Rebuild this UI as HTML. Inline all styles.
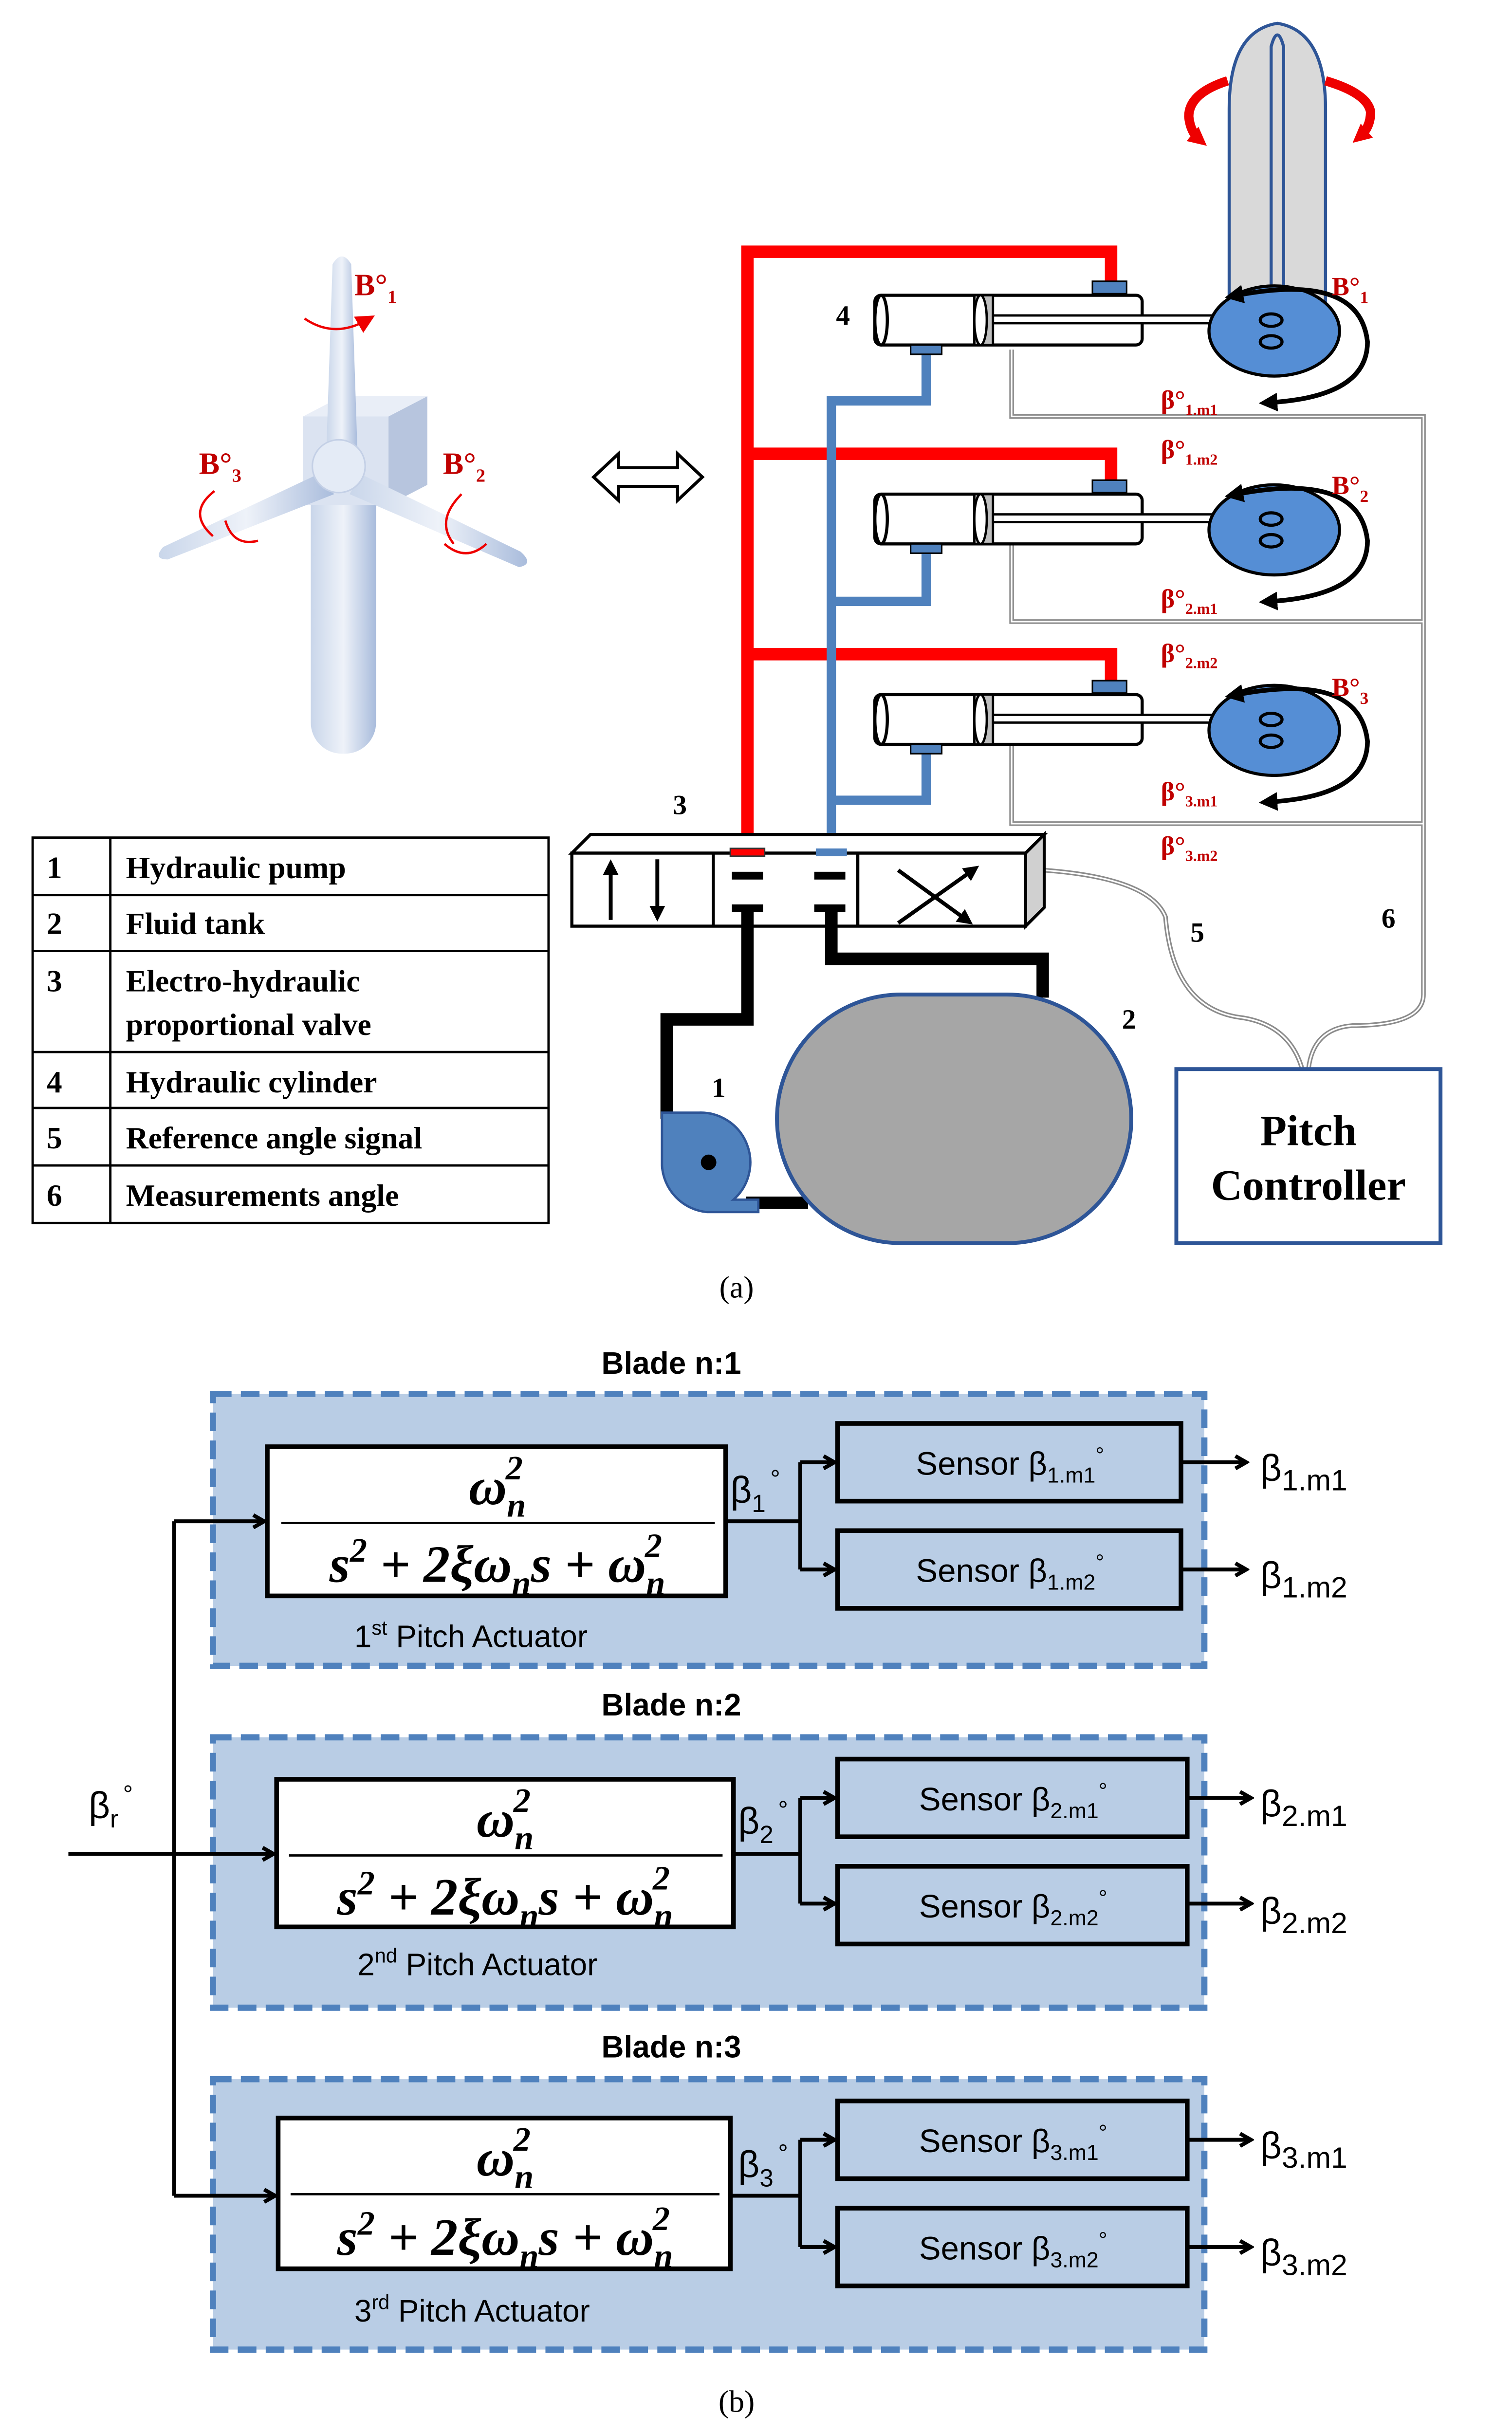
<!DOCTYPE html>
<html><head><meta charset="utf-8"><style>html,body{margin:0;padding:0;background:#fff;width:3106px;height:5153px;overflow:hidden}svg{display:block}</style></head>
<body>
<svg xmlns="http://www.w3.org/2000/svg" width="3106" height="5153" viewBox="0 0 973 1614" preserveAspectRatio="xMinYMin meet">
<defs>
<marker id="ah" markerWidth="10" markerHeight="10" refX="8" refY="5" orient="auto" markerUnits="userSpaceOnUse"><path d="M1,1 L8,5 L1,9" fill="none" stroke="#000" stroke-width="2.5"/></marker>
<marker id="ahr" markerWidth="12" markerHeight="12" refX="6" refY="6" orient="auto" markerUnits="userSpaceOnUse"><path d="M0,0 L12,6 L0,12 Z" fill="#e00"/></marker>
<marker id="ahk" markerWidth="10" markerHeight="10" refX="5" refY="5" orient="auto" markerUnits="userSpaceOnUse"><path d="M0,0 L10,5 L0,10 Z" fill="#000"/></marker>
<marker id="ahk2" markerWidth="12" markerHeight="12" refX="4" refY="6" orient="auto-start-reverse" markerUnits="userSpaceOnUse"><path d="M0,0 L12,6 L0,12 Z" fill="#000"/></marker>
<linearGradient id="bl" x1="0" x2="1"><stop offset="0" stop-color="#c9d6ea"/><stop offset=".5" stop-color="#eef2f9"/><stop offset="1" stop-color="#a9bcdc"/></linearGradient>
</defs>
<style>
.ser{font-family:"Liberation Serif",serif;font-weight:bold}
.lbl{font-family:"Liberation Serif",serif;font-weight:bold;fill:#c00000}
</style>

<g>
<rect x="200" y="300" width="42" height="185" rx="20" fill="url(#bl)"/>
<path d="M250,268 L275,255 L275,312 L250,325 Z" fill="#b7c5de"/>
<rect x="195" y="268" width="55" height="57" fill="#dbe3f1"/>
<path d="M195,268 L220,255 L275,255 L250,268 Z" fill="#e9eef7"/>
<path d="M210,290 L214,170 Q220,160 226,170 L230,290 Z" fill="url(#bl)"/>
<path d="M205,305 L105,352 Q98,360 108,360 L215,318 Z" fill="url(#bl)"/>
<path d="M232,305 L335,355 Q344,363 334,365 L225,318 Z" fill="url(#bl)"/>
<circle cx="218" cy="300" r="17" fill="#e4ebf6" stroke="#c4d0e6"/>
<path d="M196,205 Q215,218 236,206" fill="none" stroke="#e00" stroke-width="1.5" marker-end="url(#ahr)"/>
<path d="M138,316 Q120,330 137,345" fill="none" stroke="#e00" stroke-width="1.5"/>
<path d="M145,335 Q150,352 166,348" fill="none" stroke="#e00" stroke-width="1.5"/>
<path d="M297,318 Q280,335 292,350" fill="none" stroke="#e00" stroke-width="1.5"/>
<path d="M286,350 Q300,362 313,350" fill="none" stroke="#e00" stroke-width="1.5"/>
<text x="228" y="190" class="lbl" font-size="20">B°<tspan font-size="12" dy="5">1</tspan></text>
<text x="128" y="305" class="lbl" font-size="20">B°<tspan font-size="12" dy="5">3</tspan></text>
<text x="285" y="305" class="lbl" font-size="20">B°<tspan font-size="12" dy="5">2</tspan></text>
</g>
<path d="M382,307 L398,292 L398,301 L436,301 L436,292 L452,307 L436,322 L436,313 L398,313 L398,322 Z" fill="#fff" stroke="#000" stroke-width="2"/>

<path d="M791,200 L791,70 Q791,20 822,15 Q853,20 853,70 L853,200 Z" fill="#d9d9d9" stroke="#2e5597" stroke-width="2"/>
<path d="M818,200 L818,30 Q822,15 826,30 L826,200" fill="none" stroke="#2e5597" stroke-width="2"/>
<path d="M790,52 Q765,60 765,75 Q766,85 772,90" fill="none" stroke="#e00" stroke-width="6" marker-end="url(#ahr)"/>
<path d="M853,52 Q880,60 882,72 Q882,82 875,88" fill="none" stroke="#e00" stroke-width="6" marker-end="url(#ahr)"/>

<g fill="none" stroke="#8c8c8c" stroke-width="3">
<path d="M651,225 L651,268 L916,268 L916,640 Q916,660 870,660 Q845,662 842,688"/>
<path d="M651,350 L651,400 L916,400"/>
<path d="M651,479 L651,530 L916,530"/>
<path d="M672,560 Q740,565 750,590 Q755,650 800,655 Q830,660 838,688"/>
</g>
<g fill="none" stroke="#fff" stroke-width="1">
<path d="M651,225 L651,268 L916,268 L916,640 Q916,660 870,660 Q845,662 842,688"/>
<path d="M651,350 L651,400 L916,400"/>
<path d="M651,479 L651,530 L916,530"/>
<path d="M672,560 Q740,565 750,590 Q755,650 800,655 Q830,660 838,688"/>
</g>

<g fill="none" stroke="#f00" stroke-width="8">
<path d="M481,548 L481,162 L715,162 L715,183"/>
<path d="M481,292 L715,292 L715,312"/>
<path d="M481,421 L715,421 L715,440"/>
</g>
<g fill="none" stroke="#4f81bd" stroke-width="6">
<path d="M535,548 L535,258 L596,258 L596,225"/>
<path d="M535,387 L596,387 L596,352"/>
<path d="M535,515 L596,515 L596,481"/>
</g>

<g id="cyl">
<rect x="563" y="190" width="172" height="32" rx="4" fill="#fff" stroke="#000" stroke-width="2"/>
<ellipse cx="567" cy="206" rx="4" ry="16" fill="#fff" stroke="#000" stroke-width="2"/>
<rect x="627" y="190" width="12" height="32" fill="#bfbfbf" stroke="#000" stroke-width="1.5"/>
<ellipse cx="631" cy="206" rx="4" ry="16" fill="#fff" stroke="#000" stroke-width="1.5"/>
<rect x="639" y="203" width="178" height="5" fill="#fff" stroke="#000" stroke-width="1.5"/>
<rect x="703" y="181" width="22" height="8" fill="#4f81bd" stroke="#000"/>
<rect x="586" y="222" width="20" height="6" fill="#4f81bd" stroke="#000"/>
<ellipse cx="820" cy="213" rx="42" ry="29" fill="#558ed5" stroke="#000" stroke-width="2"/>
<ellipse cx="818" cy="206" rx="7" ry="4" fill="none" stroke="#000" stroke-width="2"/>
<ellipse cx="818" cy="220" rx="7" ry="4" fill="none" stroke="#000" stroke-width="2"/>
<path d="M796,190 Q875,175 880,220 Q880,255 818,259" fill="none" stroke="#000" stroke-width="3" marker-start="url(#ahk2)" marker-end="url(#ahk2)"/>
</g>
<use href="#cyl" y="128"/>
<use href="#cyl" y="257"/>
<text x="538" y="209" class="ser" font-size="18">4</text>
<g class="lbl" font-size="17">
<text x="857" y="190">B°<tspan font-size="11" dy="5">1</tspan></text>
<text x="857" y="318">B°<tspan font-size="11" dy="5">2</tspan></text>
<text x="857" y="448">B°<tspan font-size="11" dy="5">3</tspan></text>
<text x="747" y="263">β°<tspan font-size="10" dy="4">1.m1</tspan></text>
<text x="747" y="295">β°<tspan font-size="10" dy="4">1.m2</tspan></text>
<text x="747" y="391">β°<tspan font-size="10" dy="4">2.m1</tspan></text>
<text x="747" y="426">β°<tspan font-size="10" dy="4">2.m2</tspan></text>
<text x="747" y="515">β°<tspan font-size="10" dy="4">3.m1</tspan></text>
<text x="747" y="550">β°<tspan font-size="10" dy="4">3.m2</tspan></text>
</g>

<path d="M368,549 L380,537 L672,537 L660,549 Z" fill="#fff" stroke="#000" stroke-width="2"/>
<rect x="368" y="549" width="292" height="47" fill="#fff" stroke="#000" stroke-width="2"/>
<path d="M660,549 L672,537 L672,584 L660,596 Z" fill="#d0d0d0" stroke="#000" stroke-width="2"/>
<line x1="459" y1="549" x2="459" y2="596" stroke="#000" stroke-width="2"/>
<line x1="552" y1="549" x2="552" y2="596" stroke="#000" stroke-width="2"/>
<line x1="393" y1="592" x2="393" y2="558" stroke="#000" stroke-width="2.5" marker-end="url(#ahk)"/>
<line x1="423" y1="553" x2="423" y2="588" stroke="#000" stroke-width="2.5" marker-end="url(#ahk)"/>
<line x1="578" y1="560" x2="622" y2="592" stroke="#000" stroke-width="2.5" marker-end="url(#ahk)"/>
<line x1="578" y1="594" x2="626" y2="560" stroke="#000" stroke-width="2.5" marker-end="url(#ahk)"/>
<rect x="470" y="546" width="22" height="5" fill="#f00" stroke="#333"/>
<rect x="525" y="546" width="20" height="5" fill="#4f81bd"/>
<g fill="#000"><rect x="471" y="561" width="20" height="5"/><rect x="471" y="582" width="20" height="5"/><rect x="524" y="561" width="20" height="5"/><rect x="524" y="582" width="20" height="5"/></g>
<text x="433" y="524" class="ser" font-size="18">3</text>

<g fill="none" stroke="#000" stroke-width="8">
<path d="M481,587 L481,656 L429,656 L429,720"/>
<path d="M535,587 L535,617 L671,617 L671,642"/>
<path d="M480,774 L520,774"/>
</g>
<rect x="500" y="640" width="228" height="160" rx="80" ry="80" fill="#a6a6a6" stroke="#2e5597" stroke-width="2.5"/>
<text x="722" y="662" class="ser" font-size="18">2</text>
<g fill="#4f81bd" stroke="#2e5597" stroke-width="1.5">
<path d="M426,716 L450,716 A32,32 0 0,1 472,772 L488,772 L488,780 L455,780 A32,32 0 0,1 426,750 Z"/>
</g>
<circle cx="456" cy="748" r="5" fill="#000"/>
<text x="458" y="706" class="ser" font-size="18">1</text>
<text x="766" y="606" class="ser" font-size="18">5</text>
<text x="889" y="597" class="ser" font-size="18">6</text>
<rect x="757" y="688" width="170" height="112" fill="#fff" stroke="#2e5597" stroke-width="2.5"/>
<text x="842" y="737" class="ser" font-size="28" text-anchor="middle">Pitch</text>
<text x="842" y="772" class="ser" font-size="28" text-anchor="middle">Controller</text>

<g stroke="#000" stroke-width="1.5" fill="none">
<rect x="21" y="539" width="332" height="248"/>
<line x1="71" y1="539" x2="71" y2="787"/>
<line x1="21" y1="576" x2="353" y2="576"/>
<line x1="21" y1="612" x2="353" y2="612"/>
<line x1="21" y1="677" x2="353" y2="677"/>
<line x1="21" y1="713" x2="353" y2="713"/>
<line x1="21" y1="750" x2="353" y2="750"/>
</g>
<g class="ser" font-size="20">
<text x="30" y="565">1</text><text x="81" y="565">Hydraulic pump</text>
<text x="30" y="601">2</text><text x="81" y="601">Fluid tank</text>
<text x="30" y="638">3</text><text x="81" y="638">Electro-hydraulic</text><text x="81" y="666">proportional valve</text>
<text x="30" y="703">4</text><text x="81" y="703">Hydraulic cylinder</text>
<text x="30" y="739">5</text><text x="81" y="739">Reference angle signal</text>
<text x="30" y="776">6</text><text x="81" y="776">Measurements angle</text>
</g>
<text x="474" y="835" font-family="Liberation Serif,serif" font-size="20" text-anchor="middle">(a)</text>

<g font-family="Liberation Sans,sans-serif">
<text x="432" y="884" font-size="20" font-weight="bold" text-anchor="middle">Blade n:1</text>
<text x="432" y="1104" font-size="20" font-weight="bold" text-anchor="middle">Blade n:2</text>
<text x="432" y="1324" font-size="20" font-weight="bold" text-anchor="middle">Blade n:3</text>
</g>
<g fill="#b9cde5" stroke="#4f81bd" stroke-width="4" stroke-dasharray="12,6">
<rect x="137" y="897" width="638" height="175"/>
<rect x="137" y="1118" width="638" height="174"/>
<rect x="137" y="1338" width="638" height="174"/>
</g>
<g fill="#fff" stroke="#000" stroke-width="3">
<rect x="172" y="931" width="295" height="96"/>
<rect x="178" y="1145" width="294" height="95"/>
<rect x="179" y="1363" width="291" height="97"/>
</g>
<g stroke="#000" stroke-width="1.5">
<line x1="181" y1="980" x2="460" y2="980"/>
<line x1="186" y1="1194" x2="465" y2="1194"/>
<line x1="187" y1="1412" x2="463" y2="1412"/>
</g>
<g font-family="Liberation Serif,serif" font-weight="bold" font-style="italic" font-size="34" text-anchor="middle">
<text x="320" y="968">ω<tspan font-size="22" dy="8">n</tspan><tspan font-size="22" dx="-13" dy="-24">2</tspan></text>
<text x="320" y="1018">s<tspan font-size="22" dy="-13">2</tspan><tspan dy="13"> + 2ξω</tspan><tspan font-size="22" dy="8">n</tspan><tspan dy="-8">s + ω</tspan><tspan font-size="22" dy="8">n</tspan><tspan font-size="22" dx="-13" dy="-24">2</tspan></text>
<text x="325" y="1182">ω<tspan font-size="22" dy="8">n</tspan><tspan font-size="22" dx="-13" dy="-24">2</tspan></text>
<text x="325" y="1232">s<tspan font-size="22" dy="-13">2</tspan><tspan dy="13"> + 2ξω</tspan><tspan font-size="22" dy="8">n</tspan><tspan dy="-8">s + ω</tspan><tspan font-size="22" dy="8">n</tspan><tspan font-size="22" dx="-13" dy="-24">2</tspan></text>
<text x="325" y="1400">ω<tspan font-size="22" dy="8">n</tspan><tspan font-size="22" dx="-13" dy="-24">2</tspan></text>
<text x="325" y="1451">s<tspan font-size="22" dy="-13">2</tspan><tspan dy="13"> + 2ξω</tspan><tspan font-size="22" dy="8">n</tspan><tspan dy="-8">s + ω</tspan><tspan font-size="22" dy="8">n</tspan><tspan font-size="22" dx="-13" dy="-24">2</tspan></text>
</g>
<g font-family="Liberation Sans,sans-serif" font-size="20">
<text x="228" y="1060">1<tspan font-size="13" dy="-8">st</tspan><tspan dy="8"> Pitch Actuator</tspan></text>
<text x="230" y="1271">2<tspan font-size="13" dy="-8">nd</tspan><tspan dy="8"> Pitch Actuator</tspan></text>
<text x="228" y="1494">3<tspan font-size="13" dy="-8">rd</tspan><tspan dy="8"> Pitch Actuator</tspan></text>
</g>
<g fill="#b9cde5" stroke="#000" stroke-width="3">
<rect x="539" y="916" width="221" height="50"/><rect x="539" y="985" width="221" height="50"/>
<rect x="539" y="1132" width="225" height="50"/><rect x="539" y="1201" width="225" height="50"/>
<rect x="539" y="1352" width="225" height="50"/><rect x="539" y="1421" width="225" height="50"/>
</g>
<g font-family="Liberation Sans,sans-serif" font-size="21" text-anchor="middle">
<text x="650" y="949">Sensor β<tspan font-size="14" dy="5">1.m1</tspan><tspan dy="-13" font-size="14">°</tspan></text>
<text x="650" y="1018">Sensor β<tspan font-size="14" dy="5">1.m2</tspan><tspan dy="-13" font-size="14">°</tspan></text>
<text x="652" y="1165">Sensor β<tspan font-size="14" dy="5">2.m1</tspan><tspan dy="-13" font-size="14">°</tspan></text>
<text x="652" y="1234">Sensor β<tspan font-size="14" dy="5">2.m2</tspan><tspan dy="-13" font-size="14">°</tspan></text>
<text x="652" y="1385">Sensor β<tspan font-size="14" dy="5">3.m1</tspan><tspan dy="-13" font-size="14">°</tspan></text>
<text x="652" y="1454">Sensor β<tspan font-size="14" dy="5">3.m2</tspan><tspan dy="-13" font-size="14">°</tspan></text>
</g>
<g fill="none" stroke="#000" stroke-width="2.5">
<path d="M467,979 L515,979"/><path d="M515,941 L515,1010"/>
<path d="M515,941 L537,941" marker-end="url(#ah)"/><path d="M515,1010 L537,1010" marker-end="url(#ah)"/>
<path d="M472,1193 L515,1193"/><path d="M515,1157 L515,1225"/>
<path d="M515,1157 L537,1157" marker-end="url(#ah)"/><path d="M515,1225 L537,1225" marker-end="url(#ah)"/>
<path d="M470,1413 L515,1413"/><path d="M515,1377 L515,1446"/>
<path d="M515,1377 L537,1377" marker-end="url(#ah)"/><path d="M515,1446 L537,1446" marker-end="url(#ah)"/>
<path d="M760,941 L802,941" marker-end="url(#ah)"/><path d="M760,1010 L802,1010" marker-end="url(#ah)"/>
<path d="M764,1157 L805,1157" marker-end="url(#ah)"/><path d="M764,1225 L805,1225" marker-end="url(#ah)"/>
<path d="M764,1377 L805,1377" marker-end="url(#ah)"/><path d="M764,1446 L805,1446" marker-end="url(#ah)"/>
<path d="M44,1193 L176,1193" marker-end="url(#ah)"/>
<path d="M112,979 L112,1413"/>
<path d="M112,979 L170,979" marker-end="url(#ah)"/>
<path d="M112,1413 L177,1413" marker-end="url(#ah)"/>
</g>
<g font-family="Liberation Sans,sans-serif" font-size="24">
<text x="470" y="967">β<tspan font-size="16" dy="6">1</tspan><tspan font-size="16" dy="-16" dx="3">°</tspan></text>
<text x="475" y="1180">β<tspan font-size="16" dy="6">2</tspan><tspan font-size="16" dy="-16" dx="3">°</tspan></text>
<text x="475" y="1401">β<tspan font-size="16" dy="6">3</tspan><tspan font-size="16" dy="-16" dx="3">°</tspan></text>
<text x="57" y="1170">β<tspan font-size="16" dy="6">r</tspan><tspan font-size="16" dy="-16" dx="3">°</tspan></text>
<text x="811" y="953">β<tspan font-size="19" dy="6">1.m1</tspan></text>
<text x="811" y="1022">β<tspan font-size="19" dy="6">1.m2</tspan></text>
<text x="811" y="1169">β<tspan font-size="19" dy="6">2.m1</tspan></text>
<text x="811" y="1238">β<tspan font-size="19" dy="6">2.m2</tspan></text>
<text x="811" y="1389">β<tspan font-size="19" dy="6">3.m1</tspan></text>
<text x="811" y="1458">β<tspan font-size="19" dy="6">3.m2</tspan></text>
</g>
<text x="474" y="1552" font-family="Liberation Serif,serif" font-size="20" text-anchor="middle">(b)</text>
</svg>
</body></html>
